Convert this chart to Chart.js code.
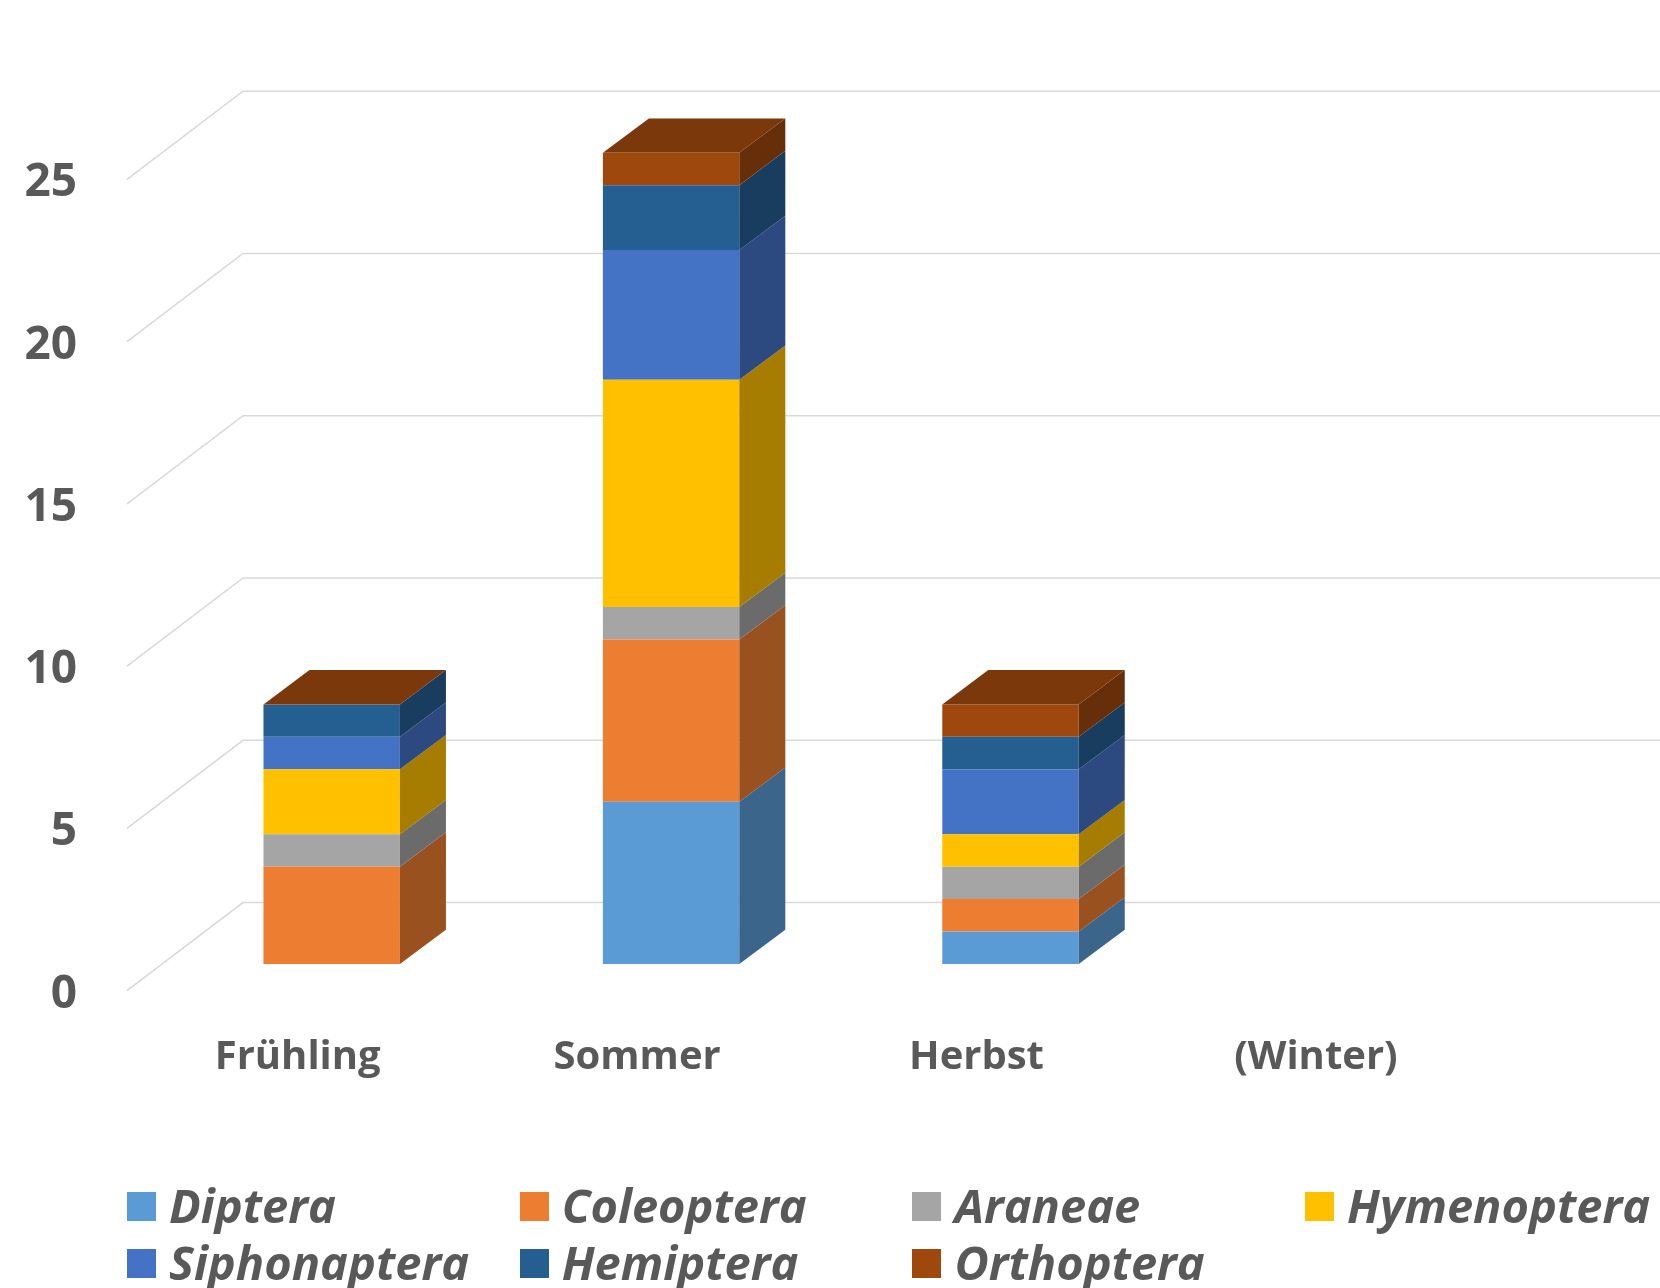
<!DOCTYPE html>
<html><head><meta charset="utf-8">
<script src="https://cdn.jsdelivr.net/npm/chart.js@4.4.1/dist/chart.umd.min.js"></script>
<style>
html,body{margin:0;padding:0;background:#fff;}
#wrap{position:relative;width:1660px;height:1288px;overflow:hidden;background:#fff;}
#c{position:absolute;left:0;top:0;}
.lg{position:absolute;font-family:'Open Sans',sans-serif;font-weight:700;font-style:italic;color:#595959;font-size:47px;line-height:58px;height:58px;white-space:nowrap;}
.bx{position:absolute;width:29px;height:29px;}
</style></head><body>
<div id="wrap"><canvas id="c" width="1660" height="1288"></canvas><div id="legend"></div></div>
<script>
// ---- data ----
const categories = ['Frühling', 'Sommer', 'Herbst', '(Winter)'];
const seriesNames = ['Diptera', 'Coleoptera', 'Araneae', 'Hymenoptera', 'Siphonaptera', 'Hemiptera', 'Orthoptera'];
const diptera      = [0, 5, 1, 0];
const coleoptera   = [3, 5, 1, 0];
const araneae      = [1, 1, 1, 0];
const hymenoptera  = [2, 7, 1, 0];
const siphonaptera = [1, 4, 2, 0];
const hemiptera    = [1, 2, 1, 0];
const orthoptera   = [0, 1, 1, 0];
const yTicks = [0, 5, 10, 15, 20, 25];
const seriesValues = [diptera, coleoptera, araneae, hymenoptera, siphonaptera, hemiptera, orthoptera];
const seriesColors = ['#5B9BD5', '#ED7D31', '#A5A5A5', '#FFC000', '#4472C4', '#255E91', '#9E480E'];

// ---- 3D styling constants ----
const DEPTH_X = 46, DEPTH_Y = -34.3;
const FRONT_DX = -35, FRONT_DY = 26.7, BACK_DX = 81, BACK_DY = -61.5;
const TEXT = '#595959';

function shade(hex, f) {
  const n = parseInt(hex.slice(1), 16);
  const r = Math.round(((n >> 16) & 255) * f), g = Math.round(((n >> 8) & 255) * f), b = Math.round((n & 255) * f);
  return 'rgb(' + r + ',' + g + ',' + b + ')';
}
function poly(ctx, pts, color) {
  ctx.beginPath();
  ctx.moveTo(pts[0][0], pts[0][1]);
  for (let k = 1; k < pts.length; k++) ctx.lineTo(pts[k][0], pts[k][1]);
  ctx.closePath();
  ctx.fillStyle = color;
  ctx.fill();
}

const wallsPlugin = {
  id: 'walls',
  beforeDatasetsDraw(chart) {
    const ctx = chart.ctx, ys = chart.scales.y, a = chart.chartArea;
    ctx.save();
    ctx.strokeStyle = '#D9D9D9';
    ctx.lineWidth = 1.6;
    ys.ticks.forEach(t => {
      const py = ys.getPixelForValue(t.value);
      ctx.beginPath();
      ctx.moveTo(a.left + FRONT_DX, py + FRONT_DY);
      ctx.lineTo(a.left + BACK_DX, py + BACK_DY);
      ctx.lineTo(chart.width, py + BACK_DY);
      ctx.stroke();
    });
    ctx.restore();
  }
};

const facesPlugin = {
  id: 'faces',
  afterDatasetsDraw(chart) {
    const ctx = chart.ctx;
    const nCat = chart.data.labels.length;
    const dsets = chart.data.datasets;
    ctx.save();
    for (let i = 0; i < nCat; i++) {
      let total = 0, last = null, lastColor = null;
      dsets.forEach((ds, d) => {
        const el = chart.getDatasetMeta(d).data[i];
        const p = el.getProps(['x', 'y', 'base', 'width'], true);
        total += ds.data[i];
        const right = p.x + p.width / 2;
        const top = Math.min(p.y, p.base), bot = Math.max(p.y, p.base);
        if (bot - top > 0.5) {
          poly(ctx, [[right, top], [right + DEPTH_X, top + DEPTH_Y], [right + DEPTH_X, bot + DEPTH_Y], [right, bot]], shade(ds.backgroundColor, 0.65));
        }
        last = p; lastColor = ds.backgroundColor;
      });
      if (total > 0 && last) {
        const left = last.x - last.width / 2, right = last.x + last.width / 2;
        const top = Math.min(last.y, last.base);
        poly(ctx, [[left, top], [left + DEPTH_X, top + DEPTH_Y], [right + DEPTH_X, top + DEPTH_Y], [right, top]], shade(lastColor, 0.78));
      }
    }
    ctx.restore();
  }
};

const datasets = seriesNames.map((name, k) => ({
  label: name,
  data: seriesValues[k],
  backgroundColor: seriesColors[k],
  borderWidth: 0,
  categoryPercentage: 1.0,
  barPercentage: 0.402
}));

new Chart(document.getElementById('c'), {
  type: 'bar',
  data: { labels: categories, datasets: datasets },
  options: {
    responsive: false,
    animation: false,
    events: [],
    layout: { padding: { left: 0, right: 140.4, top: 152.7, bottom: 164 } },
    plugins: { legend: { display: false }, tooltip: { enabled: false } },
    scales: {
      x: {
        stacked: true,
        grid: { display: false, drawTicks: false },
        border: { display: false },
        ticks: {
          autoSkip: false, maxRotation: 0, minRotation: 0,
          color: TEXT, padding: 70, labelOffset: -34,
          font: { family: "'Open Sans', sans-serif", weight: 'bold', size: 40 }
        },
        afterFit(s) { s.height = 160; }
      },
      y: {
        stacked: true,
        min: 0, max: 25,
        grid: { display: false, drawTicks: false },
        border: { display: false },
        afterBuildTicks(s) { s.ticks = yTicks.map(v => ({ value: v })); },
        ticks: {
          color: TEXT, padding: 85, labelOffset: 30.5,
          font: { family: "'Open Sans', sans-serif", weight: 'bold', size: 46 }
        },
        afterFit(s) { s.width = 162; }
      }
    }
  },
  plugins: [wallsPlugin, facesPlugin]
});

// ---- legend (HTML, built from series arrays) ----
const lg = document.getElementById('legend');
seriesNames.forEach((name, k) => {
  const col = k % 4, row = Math.floor(k / 4);
  const bx = 127 + col * 392.7;
  const cy = 1206 + row * 57.5;
  const box = document.createElement('div');
  box.className = 'bx';
  box.style.left = bx + 'px';
  box.style.top = (cy - 14.5) + 'px';
  box.style.background = seriesColors[k];
  lg.appendChild(box);
  const t = document.createElement('div');
  t.className = 'lg';
  t.style.left = (bx + 42) + 'px';
  t.style.top = (cy - 30.5) + 'px';
  t.textContent = name;
  lg.appendChild(t);
});
</script>
</body></html>
